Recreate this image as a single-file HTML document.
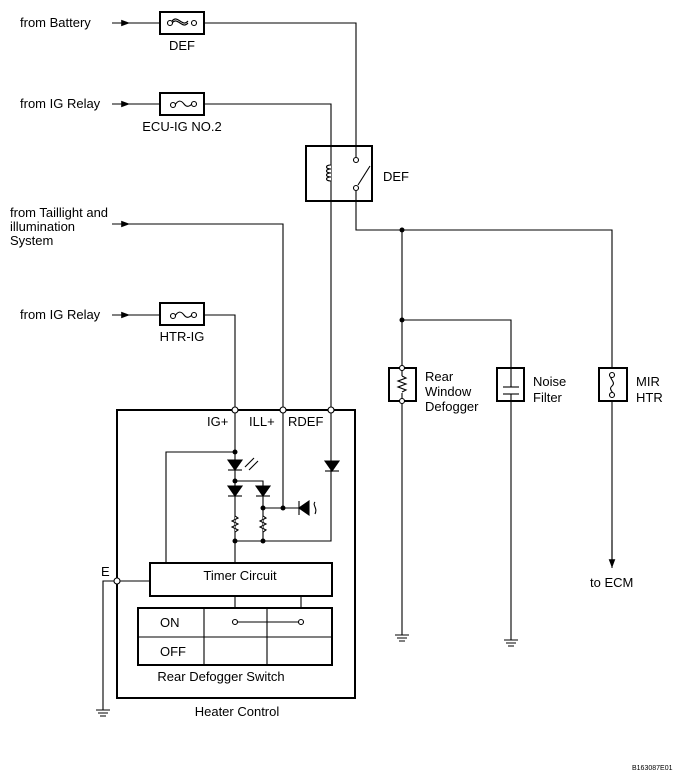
<!DOCTYPE html>
<html><head><meta charset="utf-8"><style>
html,body{margin:0;padding:0;background:#fff}
svg{display:block}
text{font-family:"Liberation Sans",sans-serif;font-size:13px;fill:#000}
</style></head><body>
<svg width="686" height="776" viewBox="0 0 686 776" xmlns="http://www.w3.org/2000/svg">
<defs><marker id="a" markerWidth="8" markerHeight="6" refX="8" refY="3" orient="auto"><path d="M0,0L8,3L0,6z" fill="#000"/></marker></defs>
<g stroke="#000" stroke-width="1.1" fill="none">
<line x1="112" y1="23" x2="130" y2="23" marker-end="url(#a)"/>
<line x1="128" y1="23" x2="160" y2="23"/>
<rect x="160" y="12" width="44" height="22" stroke-width="2"/>
<path d="M204,23H356V157"/>
<path d="M172,23C178,16 182,30 188,23 M172,21C178,14 182,28 188,21" />
<circle cx="170" cy="23" r="2.5" fill="#fff"/><circle cx="194" cy="23" r="2.5" fill="#fff"/>
<line x1="112" y1="104" x2="130" y2="104" marker-end="url(#a)"/>
<line x1="128" y1="104" x2="160" y2="104"/>
<rect x="160" y="93" width="44" height="22" stroke-width="2"/>
<path d="M175,105C178,100 181,100 184,104C187,108 190,106 192,104"/>
<circle cx="173" cy="105" r="2.5" fill="#fff"/><circle cx="194" cy="104" r="2.5" fill="#fff"/>
<path d="M204,104H331V410"/>
<rect x="306" y="146" width="66" height="55" stroke-width="2" fill="#fff"/>
<line x1="331" y1="146" x2="331" y2="201"/>
<path d="M331,165c-6,0-6,4 0,4c-6,0-6,4 0,4c-6,0-6,4 0,4c-6,0-6,4 0,4" fill="#fff"/>
<line x1="356" y1="146" x2="356" y2="157"/>
<circle cx="356" cy="160" r="2.5" fill="#fff"/>
<circle cx="356" cy="188" r="2.5" fill="#fff"/>
<line x1="358" y1="185" x2="370" y2="166"/>
<path d="M356,191V230H612V560"/>
<line x1="612" y1="540" x2="612" y2="568" marker-end="url(#a)"/>
<line x1="112" y1="224" x2="130" y2="224" marker-end="url(#a)"/>
<path d="M128,224H283V410"/>
<line x1="112" y1="315" x2="130" y2="315" marker-end="url(#a)"/>
<line x1="128" y1="315" x2="160" y2="315"/>
<rect x="160" y="303" width="44" height="22" stroke-width="2"/>
<path d="M175,316C178,311 181,311 184,315C187,319 190,317 192,315"/>
<circle cx="173" cy="316" r="2.5" fill="#fff"/><circle cx="194" cy="315" r="2.5" fill="#fff"/>
<path d="M204,315H235V410"/>
<line x1="402" y1="230" x2="402" y2="635"/>
<path d="M402,320H511V640"/>
<rect x="389" y="368" width="27" height="33" stroke-width="2" fill="#fff"/>
<line x1="402" y1="368" x2="402" y2="376"/><line x1="402" y1="393" x2="402" y2="401"/>
<path d="M402,376l4,2-8,3 8,3-8,3 8,3-4,2"/>
<circle cx="402" cy="368" r="2.5" fill="#fff"/><circle cx="402" cy="401" r="2.5" fill="#fff"/>
<rect x="497" y="368" width="27" height="33" stroke-width="2" fill="#fff"/>
<line x1="511" y1="368" x2="511" y2="387"/><line x1="511" y1="394" x2="511" y2="401"/>
<line x1="503" y1="387" x2="519" y2="387"/><line x1="503" y1="394" x2="519" y2="394"/>
<rect x="599" y="368" width="28" height="33" stroke-width="2" fill="#fff"/>
<path d="M612,374c-5,4 5,8 0,12c-5,4 5,8 0,10"/>
<circle cx="612" cy="375" r="2.5" fill="#fff"/><circle cx="612" cy="395" r="2.5" fill="#fff"/>
<path d="M395,635H409M397,638H407M399,641H405"/>
<path d="M504,640H518M506,643H516M508,646H514"/>
<path d="M96,710H110M98,713H108M100,716H106"/>
<rect x="117" y="410" width="238" height="288" stroke-width="2"/>
<path d="M331,410V541H235"/>
<line x1="235" y1="410" x2="235" y2="563"/>
<path d="M235,452H166V563"/>
<path d="M235,481H263V541"/>
<path d="M283,410V508H263"/>
<line x1="283" y1="508" x2="300" y2="508"/>
<path d="M228,460H242L235,470Z" fill="#000"/><line x1="228" y1="470" x2="242" y2="470"/>
<path d="M245,467l9,-9M249,470l9,-9"/>
<path d="M228,486H242L235,496Z" fill="#000"/><line x1="228" y1="496" x2="242" y2="496"/>
<path d="M256,486H270L263,496Z" fill="#000"/><line x1="256" y1="496" x2="270" y2="496"/>
<path d="M325,461H339L332,471Z" fill="#000"/><line x1="325" y1="471" x2="339" y2="471"/>
<path d="M299,508L309,501V515Z" fill="#000"/><line x1="299" y1="501" x2="299" y2="515"/>
<path d="M315,502c-3,3 3,6 0,12"/>
<path d="M235,516l3,2-6,3 6,3-6,3 6,3-3,2" fill="#fff"/>
<path d="M263,516l3,2-6,3 6,3-6,3 6,3-3,2" fill="#fff"/>
<rect x="150" y="563" width="182" height="33" stroke-width="2" fill="#fff"/>
<path d="M150,581H117"/>
<path d="M117,581H103V710"/>
<line x1="235" y1="596" x2="235" y2="608"/><line x1="301" y1="596" x2="301" y2="608"/>
<rect x="138" y="608" width="194" height="57" stroke-width="2"/>
<line x1="138" y1="637" x2="332" y2="637"/>
<line x1="204" y1="608" x2="204" y2="665"/><line x1="267" y1="608" x2="267" y2="665"/>
<line x1="235" y1="622" x2="301" y2="622"/>
<circle cx="235" cy="622" r="2.5" fill="#fff"/><circle cx="301" cy="622" r="2.5" fill="#fff"/>
<circle cx="117" cy="581" r="3" fill="#fff"/>
<circle cx="235" cy="410" r="3" fill="#fff"/><circle cx="283" cy="410" r="3" fill="#fff"/><circle cx="331" cy="410" r="3" fill="#fff"/>
</g>
<g fill="#000">
<circle cx="402" cy="230" r="2.5"/><circle cx="402" cy="320" r="2.5"/>
<circle cx="235" cy="452" r="2.5"/><circle cx="235" cy="481" r="2.5"/><circle cx="263" cy="508" r="2.5"/><circle cx="283" cy="508" r="2.5"/>
<circle cx="235" cy="541" r="2.5"/><circle cx="263" cy="541" r="2.5"/>
</g>
<text x="20" y="27">from Battery</text>
<text x="182" y="50" text-anchor="middle">DEF</text>
<text x="20" y="108">from IG Relay</text>
<text x="182" y="131" text-anchor="middle">ECU-IG NO.2</text>
<text x="383" y="181">DEF</text>
<text x="10" y="217">from Taillight and</text>
<text x="10" y="231">illumination</text>
<text x="10" y="245">System</text>
<text x="20" y="319">from IG Relay</text>
<text x="182" y="341" text-anchor="middle">HTR-IG</text>
<text x="425" y="381">Rear</text><text x="425" y="396">Window</text><text x="425" y="411">Defogger</text>
<text x="533" y="386">Noise</text><text x="533" y="402">Filter</text>
<text x="636" y="386">MIR</text><text x="636" y="402">HTR</text>
<text x="590" y="587">to ECM</text>
<text x="207" y="426">IG+</text><text x="249" y="426">ILL+</text><text x="288" y="426">RDEF</text>
<text x="240" y="580" text-anchor="middle">Timer Circuit</text>
<text x="160" y="627">ON</text><text x="160" y="656">OFF</text>
<text x="221" y="681" text-anchor="middle">Rear Defogger Switch</text>
<text x="237" y="716" text-anchor="middle">Heater Control</text>
<text x="101" y="576">E</text>
<text x="632" y="770" style="font-size:7px">B163087E01</text>
</svg>
</body></html>
